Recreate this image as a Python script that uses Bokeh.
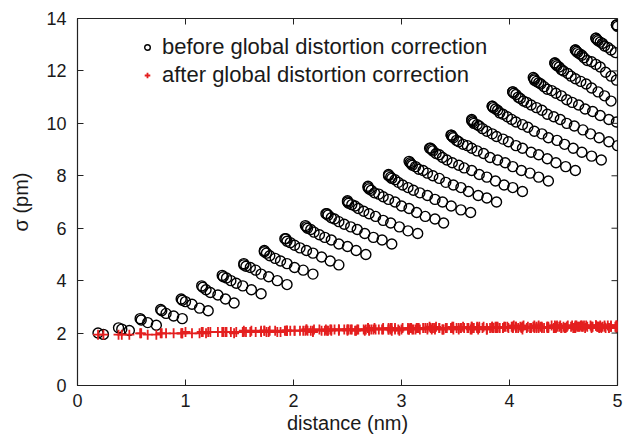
import math
from bokeh.plotting import figure
from bokeh.models import Range1d, Legend, LegendItem, FixedTicker
from bokeh.embed import file_html
from bokeh.resources import INLINE

# pair distance (nm), one line per fan ray of the reference
distance_nm = [
    0.19, 0.24,
    0.38, 0.41, 0.48,
    0.58, 0.59, 0.65, 0.73,
    0.77, 0.78, 0.82, 0.89, 0.97,
    0.96, 0.97, 1.00, 1.06, 1.13, 1.21,
    1.15, 1.16, 1.19, 1.23, 1.30, 1.37, 1.45,
    1.34, 1.35, 1.38, 1.42, 1.47, 1.53, 1.61, 1.70,
    1.54, 1.54, 1.56, 1.60, 1.65, 1.70, 1.77, 1.85, 1.94,
    1.73, 1.73, 1.75, 1.78, 1.83, 1.88, 1.94, 2.01, 2.09, 2.18,
    1.92, 1.93, 1.94, 1.97, 2.01, 2.06, 2.12, 2.18, 2.26, 2.34, 2.42,
    2.11, 2.12, 2.13, 2.16, 2.19, 2.24, 2.29, 2.35, 2.42, 2.50, 2.58, 2.67,
    2.30, 2.31, 2.32, 2.35, 2.38, 2.42, 2.47, 2.53, 2.59, 2.66, 2.74, 2.82, 2.91,
    2.50, 2.50, 2.51, 2.54, 2.57, 2.60, 2.65, 2.70, 2.76, 2.83, 2.90, 2.98, 3.06, 3.15,
    2.69, 2.69, 2.70, 2.72, 2.75, 2.79, 2.83, 2.88, 2.94, 3.00, 3.07, 3.14, 3.22, 3.31, 3.39,
    2.88, 2.88, 2.90, 2.91, 2.94, 2.97, 3.01, 3.06, 3.11, 3.17, 3.24, 3.31, 3.38, 3.46, 3.55, 3.64,
    3.07, 3.08, 3.09, 3.10, 3.13, 3.16, 3.20, 3.24, 3.29, 3.35, 3.41, 3.48, 3.55, 3.62, 3.71, 3.79, 3.88,
    3.26, 3.27, 3.28, 3.29, 3.32, 3.35, 3.38, 3.42, 3.47, 3.53, 3.58, 3.65, 3.72, 3.79, 3.87, 3.95, 4.03, 4.12,
    3.46, 3.46, 3.47, 3.48, 3.51, 3.53, 3.57, 3.61, 3.65, 3.70, 3.76, 3.82, 3.89, 3.96, 4.03, 4.11, 4.19, 4.27, 4.36,
    3.65, 3.65, 3.66, 3.67, 3.70, 3.72, 3.75, 3.79, 3.84, 3.88, 3.94, 3.99, 4.06, 4.12, 4.20, 4.27, 4.35, 4.43, 4.52, 4.61,
    3.84, 3.84, 3.85, 3.87, 3.89, 3.91, 3.94, 3.98, 4.02, 4.06, 4.12, 4.17, 4.23, 4.30, 4.36, 4.44, 4.51, 4.59, 4.67, 4.76, 4.85,
    4.03, 4.03, 4.04, 4.06, 4.08, 4.10, 4.13, 4.16, 4.20, 4.25, 4.30, 4.35, 4.41, 4.47, 4.53, 4.60, 4.68, 4.75, 4.83, 4.92, 5.00,
    4.22, 4.23, 4.23, 4.25, 4.27, 4.29, 4.32, 4.35, 4.39, 4.43, 4.48, 4.53, 4.58, 4.64, 4.70, 4.77, 4.84, 4.92, 4.99,
    4.42, 4.42, 4.43, 4.44, 4.46, 4.48, 4.50, 4.54, 4.57, 4.61, 4.66, 4.71, 4.76, 4.82, 4.88, 4.94,
    4.61, 4.61, 4.62, 4.63, 4.65, 4.67, 4.69, 4.72, 4.76, 4.80, 4.84, 4.89, 4.94, 4.99,
    4.80, 4.80, 4.81, 4.82, 4.84, 4.86, 4.88, 4.91, 4.94, 4.98,
    4.99, 4.99, 5.00,
]

# sigma before global distortion correction (pm)
sigma_before = [
    2.00, 1.95,
    2.20, 2.15, 2.10,
    2.55, 2.50, 2.40, 2.30,
    2.90, 2.85, 2.75, 2.65, 2.55,
    3.30, 3.25, 3.20, 3.10, 2.95, 2.85,
    3.80, 3.75, 3.65, 3.55, 3.45, 3.30, 3.15,
    4.20, 4.15, 4.10, 4.00, 3.90, 3.80, 3.65, 3.50,
    4.65, 4.60, 4.55, 4.50, 4.40, 4.25, 4.15, 4.00, 3.85,
    5.15, 5.10, 5.05, 4.95, 4.85, 4.75, 4.65, 4.50, 4.40, 4.25,
    5.60, 5.60, 5.50, 5.45, 5.35, 5.25, 5.15, 5.05, 4.90, 4.75, 4.60,
    6.10, 6.05, 6.00, 5.95, 5.85, 5.75, 5.65, 5.55, 5.40, 5.30, 5.15, 5.00,
    6.55, 6.55, 6.50, 6.40, 6.35, 6.25, 6.15, 6.05, 5.95, 5.80, 5.65, 5.55, 5.40,
    7.05, 7.00, 6.95, 6.90, 6.85, 6.75, 6.65, 6.55, 6.45, 6.30, 6.20, 6.05, 5.90, 5.80,
    7.60, 7.55, 7.50, 7.45, 7.35, 7.30, 7.20, 7.10, 7.00, 6.85, 6.75, 6.60, 6.45, 6.35, 6.20,
    8.05, 8.00, 7.95, 7.90, 7.85, 7.75, 7.65, 7.55, 7.45, 7.35, 7.25, 7.10, 7.00, 6.85, 6.70, 6.60,
    8.55, 8.50, 8.45, 8.40, 8.35, 8.25, 8.20, 8.10, 8.00, 7.90, 7.75, 7.65, 7.55, 7.40, 7.25, 7.15, 7.00,
    9.05, 9.05, 9.00, 8.95, 8.85, 8.80, 8.70, 8.60, 8.50, 8.40, 8.30, 8.20, 8.05, 7.95, 7.80, 7.65, 7.55, 7.40,
    9.55, 9.55, 9.50, 9.45, 9.35, 9.30, 9.20, 9.15, 9.05, 8.95, 8.85, 8.70, 8.60, 8.50, 8.35, 8.20, 8.10, 7.95, 7.80,
    10.15, 10.10, 10.05, 10.00, 9.95, 9.90, 9.80, 9.70, 9.60, 9.50, 9.40, 9.30, 9.15, 9.05, 8.90, 8.80, 8.65, 8.50, 8.35, 8.20,
    10.65, 10.65, 10.60, 10.55, 10.50, 10.40, 10.35, 10.25, 10.15, 10.05, 9.95, 9.85, 9.70, 9.60, 9.45, 9.35, 9.20, 9.05, 8.90, 8.75, 8.60,
    11.20, 11.20, 11.15, 11.10, 11.00, 10.95, 10.85, 10.80, 10.70, 10.60, 10.50, 10.35, 10.25, 10.15, 10.00, 9.90, 9.75, 9.60, 9.45, 9.30, 9.15,
    11.75, 11.70, 11.65, 11.60, 11.55, 11.50, 11.40, 11.30, 11.25, 11.15, 11.05, 10.90, 10.80, 10.70, 10.55, 10.45, 10.30, 10.15, 10.05,
    12.30, 12.30, 12.25, 12.20, 12.15, 12.05, 12.00, 11.90, 11.80, 11.70, 11.60, 11.50, 11.35, 11.20, 11.05, 10.85,
    12.80, 12.80, 12.75, 12.70, 12.65, 12.60, 12.50, 12.40, 12.35, 12.25, 12.15, 11.95, 11.80, 11.65,
    13.25, 13.25, 13.20, 13.15, 13.10, 13.05, 12.95, 12.90, 12.80, 12.70,
    13.75, 13.75, 13.70,
]

# sigma after global distortion correction (pm)
sigma_after = [
    1.94, 1.94,
    1.94, 1.94, 1.94,
    1.99, 1.99, 1.94, 1.94,
    1.99, 1.99, 1.99, 1.99, 1.99,
    1.99, 1.99, 2.04, 1.99, 1.99, 2.04,
    2.04, 2.04, 1.99, 2.04, 2.04, 2.04, 1.99,
    2.04, 2.04, 2.04, 2.04, 2.04, 2.04, 2.09, 2.04,
    2.04, 2.09, 2.04, 2.04, 2.04, 2.09, 2.04, 2.04, 2.09,
    2.09, 2.09, 2.04, 2.09, 2.09, 2.04, 2.09, 2.09, 2.09, 2.04,
    2.09, 2.09, 2.09, 2.09, 2.09, 2.09, 2.14, 2.09, 2.09, 2.14, 2.14,
    2.09, 2.14, 2.09, 2.09, 2.14, 2.14, 2.09, 2.09, 2.14, 2.14, 2.09, 2.14,
    2.14, 2.09, 2.09, 2.14, 2.14, 2.09, 2.14, 2.14, 2.14, 2.09, 2.14, 2.14, 2.09,
    2.09, 2.14, 2.14, 2.14, 2.09, 2.14, 2.14, 2.09, 2.14, 2.19, 2.14, 2.09, 2.14, 2.19,
    2.19, 2.19, 2.14, 2.14, 2.19, 2.14, 2.14, 2.14, 2.19, 2.14, 2.14, 2.19, 2.19, 2.14, 2.14,
    2.19, 2.14, 2.19, 2.19, 2.14, 2.14, 2.19, 2.19, 2.14, 2.14, 2.19, 2.19, 2.14, 2.19, 2.19, 2.14,
    2.14, 2.19, 2.19, 2.14, 2.14, 2.19, 2.19, 2.14, 2.19, 2.19, 2.19, 2.14, 2.19, 2.19, 2.14, 2.14, 2.19,
    2.24, 2.19, 2.14, 2.19, 2.24, 2.19, 2.14, 2.19, 2.19, 2.14, 2.19, 2.24, 2.19, 2.14, 2.19, 2.24, 2.19, 2.14,
    2.19, 2.19, 2.24, 2.24, 2.19, 2.19, 2.24, 2.19, 2.14, 2.19, 2.24, 2.19, 2.19, 2.24, 2.24, 2.19, 2.19, 2.24, 2.19,
    2.19, 2.24, 2.19, 2.19, 2.24, 2.24, 2.19, 2.19, 2.24, 2.24, 2.19, 2.19, 2.24, 2.24, 2.19, 2.19, 2.24, 2.19, 2.19, 2.24,
    2.24, 2.19, 2.19, 2.24, 2.24, 2.19, 2.19, 2.24, 2.24, 2.19, 2.24, 2.24, 2.19, 2.19, 2.24, 2.24, 2.19, 2.19, 2.24, 2.24, 2.19,
    2.19, 2.24, 2.29, 2.24, 2.19, 2.24, 2.29, 2.19, 2.19, 2.24, 2.24, 2.19, 2.19, 2.29, 2.24, 2.19, 2.24, 2.29, 2.19, 2.19, 2.24,
    2.24, 2.29, 2.24, 2.19, 2.29, 2.24, 2.19, 2.24, 2.29, 2.24, 2.19, 2.24, 2.29, 2.24, 2.19, 2.24, 2.24, 2.19, 2.19,
    2.29, 2.19, 2.24, 2.29, 2.24, 2.19, 2.24, 2.29, 2.24, 2.19, 2.29, 2.29, 2.19, 2.24, 2.29, 2.24,
    2.24, 2.29, 2.29, 2.24, 2.24, 2.29, 2.29, 2.24, 2.24, 2.29, 2.24, 2.19, 2.24, 2.29,
    2.29, 2.29, 2.24, 2.24, 2.29, 2.24, 2.24, 2.29, 2.29, 2.24,
    2.29, 2.24, 2.29,
]

x_ticks = [0, 1, 2, 3, 4, 5]
y_ticks = [0, 2, 4, 6, 8, 10, 12, 14]
labels = ["before global distortion correction", "after global distortion correction"]

FONT = "Liberation Sans"
INK = "#222222"
p = figure(width=623, height=445, x_range=Range1d(0, 5), y_range=Range1d(0, 14),
           output_backend="svg", toolbar_location=None,
           min_border_left=77, min_border_right=6, min_border_top=18, min_border_bottom=60)
p.xgrid.visible = False
p.ygrid.visible = False
p.outline_line_color = INK
p.outline_line_width = 1.2

c = p.scatter(distance_nm, sigma_before, marker="circle", size=10, fill_color=None,
              line_color="black", line_width=1.4)
r = p.scatter(distance_nm, sigma_after, marker="cross", size=10, line_color="#e41f1f",
              line_width=1.8)

p.xaxis.ticker = FixedTicker(ticks=x_ticks)
p.yaxis.ticker = FixedTicker(ticks=y_ticks)
for ax in [p.xaxis[0], p.yaxis[0]]:
    ax.major_tick_in = 6
    ax.major_tick_out = 0
    ax.minor_tick_in = 0
    ax.minor_tick_out = 0
    ax.axis_line_color = INK
    ax.major_tick_line_color = INK
    ax.major_label_text_font = FONT
    ax.major_label_text_font_size = "18px"
    ax.major_label_text_color = "#1a1a1a"
    ax.axis_label_text_font = FONT
    ax.axis_label_text_font_size = "20px"
    ax.axis_label_text_font_style = "normal"
    ax.axis_label_text_color = "#1a1a1a"
p.xaxis.axis_label = "distance (nm)"
p.yaxis.axis_label = "σ (pm)"
p.xaxis.major_label_standoff = 8
p.xaxis.axis_label_standoff = 2
p.yaxis.major_label_standoff = 11
p.yaxis.axis_label_standoff = 11

# mirrored inward ticks on the top and right frame edges
p.ray(x=x_ticks[1:-1], y=y_ticks[-1], length=6, length_units="screen",
      angle=-math.pi / 2, line_color=INK, line_width=1)
p.ray(x=x_ticks[-1], y=y_ticks[1:-1], length=6, length_units="screen",
      angle=math.pi, line_color=INK, line_width=1)

leg = Legend(items=[LegendItem(label=labels[0], renderers=[c]),
                    LegendItem(label=labels[1], renderers=[r])],
             location=(63, 296), border_line_color=None, background_fill_alpha=0,
             margin=0, padding=0, spacing=0, glyph_width=14, glyph_height=28,
             label_height=28, label_standoff=8, label_text_font=FONT,
             label_text_font_size="22px", label_text_color="#1a1a1a")
p.add_layout(leg)

open("out.html", "w").write(file_html(p, INLINE))
